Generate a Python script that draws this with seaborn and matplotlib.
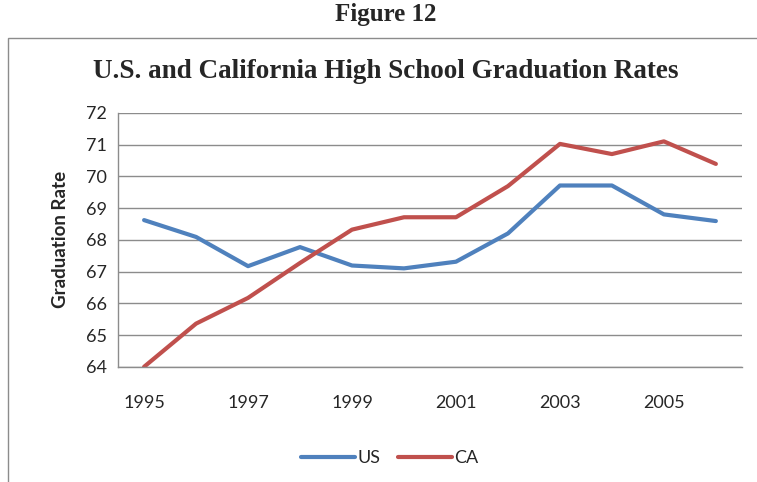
import matplotlib
matplotlib.use("Agg")
import matplotlib.pyplot as plt
import seaborn as sns
import pandas as pd

# values
years = [1995, 1996, 1997, 1998, 1999, 2000, 2001, 2002, 2003, 2004, 2005, 2006]
us_rate = [68.62, 68.09, 67.17, 67.77, 67.19, 67.1, 67.31, 68.2, 69.71, 69.71, 68.8, 68.59]
ca_rate = [64.0, 65.36, 66.17, 67.27, 68.32, 68.71, 68.71, 69.69, 71.02, 70.7, 71.1, 70.39]
x_ticks = [1995, 1997, 1999, 2001, 2003, 2005]
y_ticks = [64, 65, 66, 67, 68, 69, 70, 71, 72]

df = pd.DataFrame({
    "Year": years * 2,
    "Rate": us_rate + ca_rate,
    "Series": ["US"] * len(years) + ["CA"] * len(years),
})

sns.set_style("white")
plt.rcParams["font.family"] = ["Lato", "DejaVu Sans"]

fig = plt.figure(figsize=(7.57, 4.82), dpi=100)
ax = fig.add_axes([0.156, 0.239, 0.824, 0.527])

sns.lineplot(data=df, x="Year", y="Rate", hue="Series",
             palette={"US": "#4F81BD", "CA": "#C0504D"},
             linewidth=3, ax=ax, legend=False)

ax.set_xlim(1994.5, 2006.5)
ax.set_ylim(64, 72)
ax.set_xticks(x_ticks)
ax.set_yticks(y_ticks)
ax.tick_params(axis="both", labelsize=13, length=0, pad=8)
ax.tick_params(axis="x", pad=20)
ax.yaxis.grid(True, color="#8c8c8c", linewidth=1)
ax.set_axisbelow(True)
for side in ["top", "right"]:
    ax.spines[side].set_visible(False)
for side in ["left", "bottom"]:
    ax.spines[side].set_color("#8c8c8c")
    ax.spines[side].set_linewidth(1)

ax.set_xlabel("")
ax.set_ylabel("Graduation Rate", fontsize=13.5, fontweight="bold", labelpad=12)

# chart titles
fig.text(0.51, 0.97, "Figure 12", ha="center", va="center",
         fontsize=18, fontweight="bold", family="Liberation Serif")
fig.text(0.51, 0.851, "U.S. and California High School Graduation Rates",
         ha="center", va="center", fontsize=19.5, fontweight="bold",
         family="Liberation Serif")

# outer chart border (runs off the right and bottom edges)
border = plt.Rectangle((8 / 757, -0.05), 1.0, 1 - 38 / 482 + 0.05,
                       transform=fig.transFigure, fill=False,
                       edgecolor="#8c8c8c", linewidth=1)
fig.add_artist(border)

# legend
handles = [plt.Line2D([], [], color="#4F81BD", lw=3),
           plt.Line2D([], [], color="#C0504D", lw=3)]
fig.legend(handles, ["US", "CA"], loc="center", bbox_to_anchor=(0.515, 0.05),
           ncol=2, frameon=False, fontsize=13, handlelength=3.0,
           handletextpad=0.1, columnspacing=1.0)

fig.savefig("out.png", dpi=100)
